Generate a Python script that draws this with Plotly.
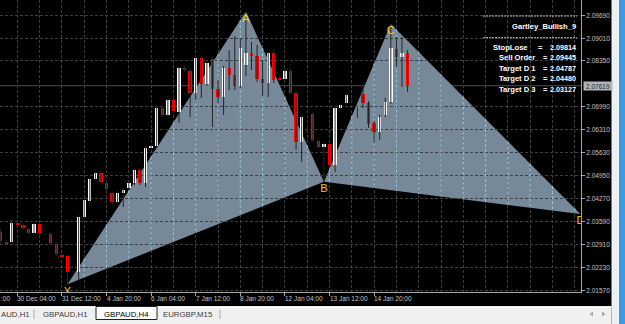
import plotly.graph_objects as go

# ---------------- data (GBPAUD, H4) ----------------
bar_index = list(range(74))
opens = [2.03294, 2.03007, 2.03007, 2.03569, 2.03501, 2.03374, 2.03273, 2.03530, 2.03235, 2.03235,
         2.02930, 2.02614, 2.02584, 2.02111, 2.02120, 2.03746, 2.04210, 2.04861, 2.05038, 2.04743,
         2.04447, 2.04181, 2.04447, 2.04595, 2.04743, 2.05127, 2.04743, 2.05792, 2.05837, 2.06960,
         2.06753, 2.07197, 2.06842, 2.08143, 2.08054, 2.07403, 2.08438, 2.07670, 2.08409, 2.07522,
         2.07285, 2.08143, 2.07936, 2.07610, 2.08231, 2.08586, 2.08497, 2.07817, 2.07699, 2.08586,
         2.07847, 2.07817, 2.08054, 2.07403, 2.05955, 2.06369, 2.06783, 2.05984, 2.05807, 2.05896,
         2.05275, 2.06951, 2.07108, 2.07197, 2.06812, 2.07374, 2.07108, 2.06517, 2.06259, 2.06753,
         2.07146, 2.08704, 2.08468, 2.08586]
highs = [2.03383, 2.03057, 2.03649, 2.03619, 2.03560, 2.03412, 2.03590, 2.03590, 2.03264, 2.03294,
         2.02998, 2.02644, 2.02614, 2.02141, 2.03797, 2.04299, 2.04920, 2.05097, 2.05097, 2.04802,
         2.04506, 2.04506, 2.04595, 2.04802, 2.05186, 2.05186, 2.05837, 2.05837, 2.07019, 2.07019,
         2.07256, 2.07256, 2.08202, 2.08202, 2.08113, 2.08497, 2.08497, 2.08350, 2.08468, 2.07788,
         2.08202, 2.08675, 2.09089, 2.09030, 2.09810, 2.08911, 2.08823, 2.08379, 2.08616, 2.08675,
         2.07906, 2.08113, 2.08113, 2.07463, 2.06753, 2.06428, 2.06842, 2.06044, 2.05955, 2.05955,
         2.07019, 2.07108, 2.07403, 2.07256, 2.06960, 2.07699, 2.07167, 2.06576, 2.06753, 2.07256,
         2.09443, 2.09059, 2.09059, 2.08675]
lows = [2.02939, 2.02880, 2.02969, 2.03471, 2.03353, 2.03205, 2.03235, 2.03176, 2.03205, 2.02910,
        2.02584, 2.02555, 2.01748, 2.02082, 2.01875, 2.03708, 2.04151, 2.04802, 2.04713, 2.04506,
        2.04122, 2.04122, 2.04033, 2.04536, 2.04684, 2.04684, 2.04624, 2.05748, 2.05777, 2.06694,
        2.06694, 2.06812, 2.06517, 2.08024, 2.06694, 2.07197, 2.07256, 2.07610, 2.06398, 2.07108,
        2.06753, 2.07492, 2.07492, 2.07551, 2.07906, 2.08083, 2.07729, 2.07315, 2.07285, 2.07699,
        2.07729, 2.07758, 2.07344, 2.05718, 2.05364, 2.06310, 2.05955, 2.05748, 2.04781, 2.05216,
        2.05068, 2.06901, 2.07049, 2.07137, 2.06664, 2.06960, 2.06369, 2.05955, 2.06014, 2.06694,
        2.07078, 2.08172, 2.07581, 2.07433]
closes = [2.03028, 2.02930, 2.03569, 2.03522, 2.03403, 2.03273, 2.03530, 2.03256, 2.03235, 2.02978,
          2.02635, 2.02584, 2.02120, 2.02111, 2.03729, 2.04240, 2.04861, 2.05038, 2.04772, 2.04565,
          2.04181, 2.04447, 2.04536, 2.04743, 2.05127, 2.04743, 2.05777, 2.05822, 2.06960, 2.06753,
          2.07197, 2.06871, 2.08143, 2.08083, 2.07403, 2.08438, 2.07670, 2.08290, 2.07522, 2.07285,
          2.08143, 2.07936, 2.07610, 2.08734, 2.08586, 2.08497, 2.07817, 2.07699, 2.08586, 2.07788,
          2.07788, 2.08054, 2.07403, 2.05955, 2.06694, 2.06369, 2.06014, 2.05807, 2.05896, 2.05275,
          2.06960, 2.07049, 2.07344, 2.07197, 2.06812, 2.07108, 2.06487, 2.06250, 2.06703, 2.07146,
          2.08734, 2.08468, 2.08586, 2.07619]

pattern_names = ["X", "A", "B", "C", "D"]
pattern_bar = [12, 44, 58, 70, 104]
pattern_price = [2.01748, 2.09810, 2.04781, 2.09443, 2.03826]

# first label is only partly on screen (":00" of the previous timestamp)
time_label_bar = [-2, 3, 11, 19, 27, 35, 43, 51, 59, 67]
time_label_text = [":00", "30 Dec 04:00", "31 Dec 12:00", "4 Jan 20:00", "6 Jan 04:00",
                   "7 Jan 12:00", "8 Jan 20:00", "12 Jan 04:00", "13 Jan 12:00", "14 Jan 20:00"]
price_ticks = [2.09690, 2.09010, 2.08350, 2.06990, 2.06310, 2.05630, 2.04950,
               2.04270, 2.03590, 2.02910, 2.02230, 2.01570]
bid_price = 2.07619

info_title = "Gartley_Bullish_9"
info_names = ["StopLose", "Sell Order", "Target D 1", "Target D 2", "Target D 3"]
info_values = [2.09814, 2.09445, 2.04787, 2.04480, 2.03127]

tab_names = ["AUD,H1", "GBPAUD,H1", "GBPAUD,H4", "EURGBP,M15"]
active_tab = 2

# ---------------- layout constants ----------------
FIG_W, FIG_H = 625, 324
PLOT_W, PLOT_H = 581, 292
X_RANGE = [-0.108, 104.11]
Y_RANGE = [2.01520, 2.10153]
GRID_STEP, GRID_START = 4, 3

BG = "#000000"
GRID = "#3e3e3e"
AXIS = "#a4a4a4"
LABEL = "#c4c4c4"
BULL = "#ffffff"
BEAR = "#ff0000"
WICK = "#262626"
PATTERN = "#778899"
GRID_ON_PATTERN = "#8cc8d8"
LETTER = "#f5d000"
DASH = "3px,2px"
FONT = "Liberation Sans, Arial, sans-serif"


def pxx(x):
    return x / PLOT_W


def pxy(y):
    return 1 - y / PLOT_H


def bar_to_paper(i):
    return (i - X_RANGE[0]) / (X_RANGE[1] - X_RANGE[0])


fig = go.Figure()

# wicks
wx, wy = [], []
for i, h, l in zip(bar_index, highs, lows):
    wx += [i, i, None]
    wy += [l, h, None]
fig.add_trace(go.Scatter(x=wx, y=wy, mode="lines", line=dict(color=WICK, width=1),
                         hoverinfo="skip", showlegend=False))

# bodies
base = [min(o, c) for o, c in zip(opens, closes)]
height = [abs(c - o) for o, c in zip(opens, closes)]
colors = [BULL if c >= o else BEAR for o, c in zip(opens, closes)]
fig.add_trace(go.Bar(x=bar_index, y=height, base=base, width=0.6,
                     marker=dict(color=colors, line=dict(width=0)),
                     hoverinfo="skip", showlegend=False))

# pattern letters (invisible tiny marker just pushes the letter a bit below the vertex)
fig.add_trace(go.Scatter(x=pattern_bar, y=pattern_price, mode="markers+text", text=pattern_names,
                         textposition="bottom center", cliponaxis=True,
                         marker=dict(size=1.6, color="rgba(0,0,0,0)"),
                         textfont=dict(color=LETTER, size=11, family=FONT),
                         hoverinfo="skip", showlegend=False))

shapes = []
# pattern triangles XAB and BCD
triangles = []
for a, b, c in [(0, 1, 2), (2, 3, 4)]:
    pts = [(pattern_bar[k], pattern_price[k]) for k in (a, b, c)]
    triangles.append(pts)
    path = "M {} {} L {} {} L {} {} Z".format(*[v for p in pts for v in p])
    shapes.append(dict(type="path", path=path, xref="x", yref="y", fillcolor=PATTERN,
                       line=dict(width=0), layer="below"))

# vertical grid drawn light inside the pattern
grid_bars = list(range(GRID_START, int(X_RANGE[1]) + 1, GRID_STEP))
for g in grid_bars:
    for tri in triangles:
        ys = []
        for (x1, y1), (x2, y2) in zip(tri, tri[1:] + tri[:1]):
            if x1 != x2 and min(x1, x2) <= g <= max(x1, x2):
                ys.append(y1 + (y2 - y1) * (g - x1) / (x2 - x1))
        if len(ys) >= 2:
            shapes.append(dict(type="line", xref="x", yref="y", x0=g, x1=g, y0=min(ys), y1=max(ys),
                               line=dict(color=PATTERN, width=1), layer="between"))
            shapes.append(dict(type="line", xref="x", yref="y", x0=g, x1=g, y0=max(ys), y1=min(ys),
                               line=dict(color=GRID_ON_PATTERN, width=1, dash=DASH), layer="between"))

# bid line
shapes.append(dict(type="line", xref="paper", yref="y", x0=0, x1=1, y0=bid_price, y1=bid_price,
                   line=dict(color="#4a5058", width=1), layer="between"))

# info separator lines
for yy in (16, 37.7):
    shapes.append(dict(type="line", xref="paper", yref="paper", x0=pxx(483), x1=pxx(577),
                       y0=pxy(yy), y1=pxy(yy), line=dict(color="#b8b8b8", width=1, dash="2px,1px"),
                       layer="above"))

# window chrome: tab bar and right strip
shapes.append(dict(type="rect", xref="paper", yref="paper", x0=pxx(-2), x1=pxx(611.5),
                   y0=pxy(306.3), y1=pxy(325), fillcolor="#f0f0f0", line=dict(width=0), layer="above"))
shapes.append(dict(type="rect", xref="paper", yref="paper", x0=pxx(-2), x1=pxx(611.5),
                   y0=pxy(306.3), y1=pxy(308), fillcolor="#ffffff", line=dict(width=0), layer="above"))
shapes.append(dict(type="rect", xref="paper", yref="paper", x0=pxx(96), x1=pxx(157),
                   y0=pxy(306.5), y1=pxy(319.5), fillcolor="#ffffff",
                   line=dict(color="#202020", width=1), layer="above"))
for sx in (34, 220):
    shapes.append(dict(type="line", xref="paper", yref="paper", x0=pxx(sx), x1=pxx(sx),
                       y0=pxy(310), y1=pxy(319), line=dict(color="#a8a8a8", width=1), layer="above"))
shapes.append(dict(type="rect", xref="paper", yref="paper", x0=pxx(611.5), x1=pxx(626),
                   y0=pxy(-1), y1=pxy(325), fillcolor="#eef1f4", line=dict(width=0), layer="above"))
shapes.append(dict(type="rect", xref="paper", yref="paper", x0=pxx(619), x1=pxx(626),
                   y0=pxy(-1), y1=pxy(325), fillcolor="#3d9be4", line=dict(width=0), layer="above"))
for (a, b, c) in [((593, 311.5), (593, 316.5), (589.5, 314)), ((602, 311.5), (602, 316.5), (605.5, 314))]:
    shapes.append(dict(type="path", xref="paper", yref="paper",
                       path="M {} {} L {} {} L {} {} Z".format(pxx(a[0]), pxy(a[1]), pxx(b[0]), pxy(b[1]),
                                                              pxx(c[0]), pxy(c[1])),
                       fillcolor="#a8a8a8", line=dict(width=0), layer="above"))

annotations = []
# time labels
for i, t in zip(time_label_bar, time_label_text):
    xp = max(bar_to_paper(i), 0.0)
    annotations.append(dict(xref="paper", yref="paper", x=xp, y=pxy(298.7), text=t,
                            showarrow=False, xanchor="left", yanchor="middle",
                            xshift=-2 if xp > 0 else -1,
                            font=dict(size=6.5, color=LABEL, family=FONT)))
# bid label
annotations.append(dict(xref="paper", yref="y", x=1, y=bid_price, text="{:.5f}".format(bid_price),
                        showarrow=False, xanchor="left", yanchor="middle", xshift=2,
                        width=28, height=8, align="center", bgcolor="#aeb5bc", borderpad=0,
                        font=dict(size=6.5, color="#1e1e1e", family=FONT)))
# info block
annotations.append(dict(xref="paper", yref="paper", x=pxx(578), y=pxy(26.5), text="<b>%s</b>" % info_title,
                        showarrow=False, xanchor="right", yanchor="middle",
                        font=dict(size=7.6, color="#ffffff", family=FONT)))
row_y = [47.2, 57.7, 68.2, 78.7, 89.2]
name_x = [491, 497, 497, 497, 497]
eq_x = [536, 541, 541, 541, 541]
for name, val, ry, nx, ex in zip(info_names, info_values, row_y, name_x, eq_x):
    annotations.append(dict(xref="paper", yref="paper", x=pxx(nx), y=pxy(ry), text="<b>%s</b>" % name,
                            showarrow=False, xanchor="left", yanchor="middle",
                            font=dict(size=7.6, color="#ffffff", family=FONT)))
    annotations.append(dict(xref="paper", yref="paper", x=pxx(ex), y=pxy(ry), text="<b>=</b>",
                            showarrow=False, xanchor="left", yanchor="middle",
                            font=dict(size=7.6, color="#ffffff", family=FONT)))
    annotations.append(dict(xref="paper", yref="paper", x=pxx(578), y=pxy(ry),
                            text="<b>{:.5f}</b>".format(val),
                            showarrow=False, xanchor="right", yanchor="middle",
                            font=dict(size=7.2, color="#ffffff", family=FONT)))
# tabs
tab_cx = [None, 64.5, 126, 188]
for k, name in enumerate(tab_names):
    if k == 0:
        annotations.append(dict(xref="paper", yref="paper", x=0, y=pxy(314.5), text=name,
                                showarrow=False, xanchor="left", yanchor="middle", xshift=-1,
                                font=dict(size=7.8, color="#3c3c3c", family=FONT)))
    else:
        annotations.append(dict(xref="paper", yref="paper", x=pxx(tab_cx[k]), y=pxy(314.5), text=name,
                                showarrow=False, xanchor="center", yanchor="middle",
                                font=dict(size=7.8, color="#000000" if k == active_tab else "#3c3c3c",
                                          family=FONT)))

visible_label_bars = [i for i in time_label_bar if X_RANGE[0] <= i <= X_RANGE[1]]

fig.update_layout(
    width=FIG_W, height=FIG_H,
    margin=dict(l=0, r=FIG_W - PLOT_W, t=0, b=FIG_H - PLOT_H),
    paper_bgcolor=BG, plot_bgcolor=BG,
    barmode="overlay", bargap=0,
    showlegend=False,
    shapes=shapes, annotations=annotations,
    xaxis=dict(range=X_RANGE, tickmode="array", tickvals=visible_label_bars, showticklabels=False,
               ticks="outside", ticklen=3, tickcolor=AXIS, tickwidth=1,
               showgrid=True, gridcolor=GRID, gridwidth=1, griddash=DASH,
               minor=dict(tickmode="array", tickvals=grid_bars, showgrid=True, gridcolor=GRID,
                          gridwidth=1, griddash=DASH, ticks=""),
               showline=True, linecolor=AXIS, linewidth=1, zeroline=False, fixedrange=True),
    yaxis=dict(range=Y_RANGE, side="right", tickmode="array", tickvals=price_ticks,
               ticktext=["{:.5f}".format(v) for v in price_ticks],
               ticks="outside", ticklen=3, tickcolor=AXIS, tickwidth=1,
               tickfont=dict(size=6.5, color=LABEL, family=FONT),
               showgrid=True, gridcolor=GRID, gridwidth=1, griddash=DASH,
               showline=True, linecolor=AXIS, linewidth=1, zeroline=False, fixedrange=True),
)

fig.write_html("out.html", config={"displayModeBar": False})
